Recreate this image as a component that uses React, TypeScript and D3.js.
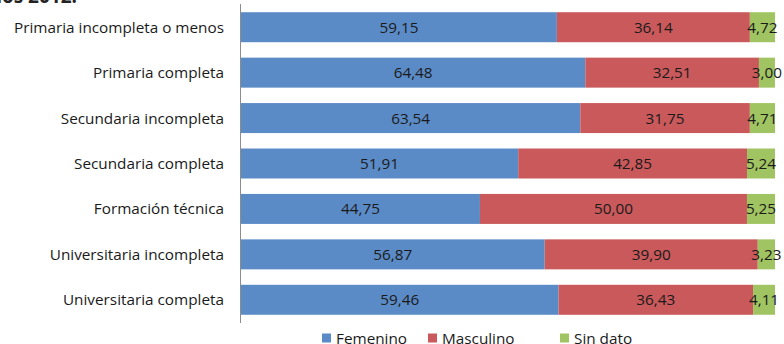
import React from "react";
import * as d3 from "d3";

const categories = [
  "Primaria incompleta o menos",
  "Primaria completa",
  "Secundaria incompleta",
  "Secundaria completa",
  "Formación técnica",
  "Universitaria incompleta",
  "Universitaria completa",
];
const femenino = [59.15, 64.48, 63.54, 51.91, 44.75, 56.87, 59.46];
const masculino = [36.14, 32.51, 31.75, 42.85, 50.0, 39.9, 36.43];
const sinDato = [4.72, 3.0, 4.71, 5.24, 5.25, 3.23, 4.11];
const seriesNames = ["Femenino", "Masculino", "Sin dato"];
const seriesColors = ["#5B8BC6", "#C9595A", "#A0C462"];

const W = 784;
const H = 344;
const FONT = "'Open Sans', 'DejaVu Sans', sans-serif";
const FS = 15.3;

export default function App() {
  const rows = categories.map((c, i) => ({
    cat: c,
    Femenino: femenino[i],
    Masculino: masculino[i],
    "Sin dato": sinDato[i],
  }));
  const stack = d3.stack<any>().keys(seriesNames)(rows);

  const x = d3.scaleLinear().domain([0, 100]).range([241, 775]);
  const y = d3
    .scaleBand<string>()
    .domain(categories)
    .range([4.5, 322.5])
    .paddingInner(0.34)
    .paddingOuter(0.17);

  const fmt = (v: number) => v.toFixed(2).replace(".", ",");

  const legendX = [322, 428, 560];

  return (
    <svg
      width={W}
      height={H}
      style={{ position: "absolute", left: 0, top: 0, display: "block" }}
    >
      <rect width={W} height={H} fill="#fff" />
      {/* title line running off the top edge */}
      <text x={77} y={2.5} textAnchor="end" fontFamily={FONT} fontSize={19} fontWeight="bold" fill="#222">
        años 2012.
      </text>
      {stack.map((s, si) =>
        s.map((d, i) => {
          const x0 = x(d[0]);
          const x1 = x(d[1]);
          const yy = y(categories[i])!;
          const v = d[1] - d[0];
          return (
            <g key={`${si}-${i}`}>
              <rect
                x={x0}
                y={yy}
                width={x1 - x0}
                height={y.bandwidth()}
                fill={seriesColors[si]}
              />
              <text
                x={(x0 + x1) / 2}
                y={yy + y.bandwidth() / 2}
                dy="0.36em"
                textAnchor="middle"
                fontFamily={FONT}
                fontSize={FS}
                fill="#1a1a1a"
              >
                {fmt(v)}
              </text>
            </g>
          );
        })
      )}
      <line x1={240.5} x2={240.5} y1={4} y2={323} stroke="#8c8c8c" strokeWidth={1} />
      {categories.map((c) => (
        <text
          key={c}
          x={224}
          y={y(c)! + y.bandwidth() / 2}
          dy="0.36em"
          textAnchor="end"
          fontFamily={FONT}
          fontSize={FS}
          fill="#1a1a1a"
        >
          {c}
        </text>
      ))}
      {seriesNames.map((n, i) => (
        <g key={n} transform={`translate(${legendX[i]},338)`}>
          <rect x={0} y={-4.5} width={9} height={9} fill={seriesColors[i]} />
          <text x={14} y={0} dy="0.36em" fontFamily={FONT} fontSize={FS} fill="#1a1a1a">
            {n}
          </text>
        </g>
      ))}
    </svg>
  );
}
